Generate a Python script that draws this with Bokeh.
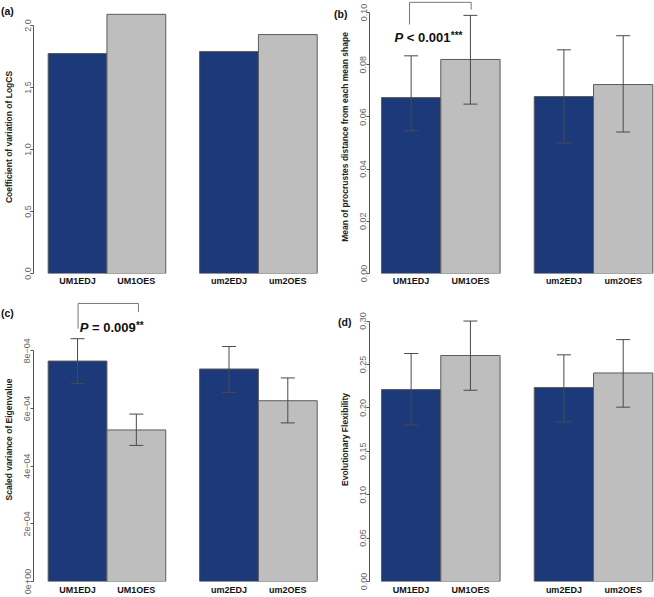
from bokeh.plotting import figure
from bokeh.models import (ColumnDataSource, Whisker, FixedTicker, CustomJSTickFormatter,
                          Label, TeeHead, Range1d, GridBox, Div)
from bokeh.embed import file_html
from bokeh.resources import INLINE

# ---------------- data ----------------
groups = ["UM1EDJ", "UM1OES", "um2EDJ", "um2OES"]
bar_pos = [0.5, 1.5, 3.076, 4.076]
bar_colors = ["#1c3a7a", "#bebebe", "#1c3a7a", "#bebebe"]
panel_tags = ["(a)", "(b)", "(c)", "(d)"]

cv_logcs = [1.774, 2.09, 1.79, 1.927]

procrustes_mean = [0.0674, 0.0820, 0.0678, 0.0724]
procrustes_upper = [0.0834, 0.0989, 0.0857, 0.0911]
procrustes_lower = [0.0547, 0.0649, 0.0500, 0.0542]

eigen_var = [7.645e-4, 5.255e-4, 7.37e-4, 6.27e-4]
eigen_upper = [8.42e-4, 5.806e-4, 8.15e-4, 7.06e-4]
eigen_lower = [6.87e-4, 4.72e-4, 6.56e-4, 5.50e-4]

evo_flex = [0.2211, 0.2603, 0.2234, 0.2402]
evo_upper = [0.2626, 0.300, 0.2611, 0.2786]
evo_lower = [0.1803, 0.2203, 0.1837, 0.2008]

a_ticks = [0.0, 0.5, 1.0, 1.5, 2.0]
b_ticks = [0.0, 0.02, 0.04, 0.06, 0.08, 0.10]
c_ticks = [0.0, 2e-4, 4e-4, 6e-4, 8e-4]
d_ticks = [0.0, 0.05, 0.10, 0.15, 0.20, 0.25, 0.30]

# significance brackets: y of left leg end, top, top, right leg end
b_bracket_y = [0.0954, 0.1039, 0.1039, 0.1011]
c_bracket_y = [8.771e-4, 9.643e-4, 9.643e-4, 9.343e-4]
b_pvalue = ["P", "< 0.001", "***"]
c_pvalue = ["P", "= 0.009", "**"]

FONT = "Liberation Sans"
AX = "#555555"


def make_panel(w, h, left, right, bottom, x_start, x_end, y_end, ticks, fmt_code,
               ylabel, heights, upper=None, lower=None, label_std=2):
    p = figure(width=w, height=h, output_backend="svg", toolbar_location=None,
               min_border_left=left, min_border_right=right, min_border_top=0,
               min_border_bottom=bottom,
               x_range=Range1d(x_start, x_end), y_range=Range1d(0, y_end))
    p.outline_line_color = None
    p.xgrid.visible = False
    p.ygrid.visible = False
    src = ColumnDataSource(dict(x=bar_pos, top=heights, color=bar_colors))
    p.vbar(x="x", top="top", bottom=0, width=1.0, fill_color="color",
           line_color="#5c5c5c", line_width=1, source=src)
    if upper is not None:
        esrc = ColumnDataSource(dict(x=bar_pos, upper=upper, lower=lower))
        wk = Whisker(source=esrc, base="x", upper="upper", lower="lower",
                     line_color="#4a4a4a", line_width=1, level="overlay",
                     upper_head=TeeHead(size=14, line_color="#4a4a4a", line_width=1),
                     lower_head=TeeHead(size=14, line_color="#4a4a4a", line_width=1))
        p.add_layout(wk)
    # y axis (R style)
    ya = p.yaxis[0]
    ya.ticker = FixedTicker(ticks=ticks)
    ya.formatter = CustomJSTickFormatter(code=fmt_code)
    ya.bounds = (0, ticks[-1])
    ya.major_tick_in = 0
    ya.major_tick_out = 3
    ya.minor_tick_in = 0
    ya.minor_tick_out = 0
    ya.minor_tick_line_color = None
    ya.axis_line_color = AX
    ya.major_tick_line_color = AX
    ya.major_label_text_color = "#666666"
    ya.major_label_text_font = FONT
    ya.major_label_text_font_size = "9px"
    ya.major_label_orientation = "vertical"
    ya.major_label_standoff = 0
    ya.axis_label = ylabel
    ya.axis_label_text_font = FONT
    ya.axis_label_text_font_style = "bold"
    ya.axis_label_text_font_size = "8.5px"
    ya.axis_label_text_color = "#222222"
    ya.axis_label_standoff = 8
    # x axis: category labels only
    xa = p.xaxis[0]
    xa.ticker = FixedTicker(ticks=bar_pos)
    xa.major_label_overrides = {pos: g for pos, g in zip(bar_pos, groups)}
    xa.axis_line_color = None
    xa.major_tick_line_color = None
    xa.minor_tick_line_color = None
    xa.major_tick_in = 0
    xa.major_tick_out = 0
    xa.minor_tick_in = 0
    xa.minor_tick_out = 0
    xa.major_label_text_font = FONT
    xa.major_label_text_font_style = "bold"
    xa.major_label_text_font_size = "9px"
    xa.major_label_text_color = "#111111"
    xa.major_label_standoff = label_std
    return p


def add_pvalue(p, x, y, parts):
    p.add_layout(Label(x=x, y=y, text=parts[0], text_font=FONT,
                       text_font_style="bold italic", text_font_size="13px",
                       text_baseline="alphabetic", text_color="#111111"))
    p.add_layout(Label(x=x, y=y, x_offset=12.3, text=parts[1], text_font=FONT,
                       text_font_style="bold", text_font_size="13px",
                       text_baseline="alphabetic", text_color="#111111"))
    p.add_layout(Label(x=x, y=y, x_offset=56.3, y_offset=2, text=parts[2], text_font=FONT,
                       text_font_style="bold", text_font_size="10px",
                       text_baseline="alphabetic", text_color="#111111"))


def tag_div(txt, top, left):
    return Div(text=txt, width=22, height=14, margin=(top, 0, 0, left),
               styles={"font-family": FONT, "font-weight": "bold", "font-size": "10.5px",
                       "color": "#111111", "line-height": "12px", "z-index": "5"})


fmt1 = "return tick.toFixed(1);"
fmt2 = "return tick.toFixed(2);"
fmt_exp = """
if (tick == 0) { return "0e+00"; }
var e = Math.floor(Math.log10(Math.abs(tick)) + 1e-9);
var m = Math.round(tick / Math.pow(10, e));
var s = String(Math.abs(e)); if (s.length < 2) { s = "0" + s; }
return m + "e" + (e < 0 ? "\\u2212" : "+") + s;
"""

LX0, LX1 = -0.249, 4.700     # left panels x range
RX0, RX1 = -0.202, 4.604     # right panels x range

# (a)
pa = make_panel(327, 297, 32, 3, 24, LX0, LX1, 273 / 124.0, a_ticks, fmt1,
                "Coefficient of variation of LogCS", cv_logcs, label_std=2)

# (b)
pb = make_panel(327, 297, 42, 0, 24, RX0, RX1, 273 / 2610.0, b_ticks, fmt2,
                "Mean of procrustes distance from each mean shape", procrustes_mean,
                procrustes_upper, procrustes_lower, label_std=2)
pb.line(x=[bar_pos[0] - 0.027, bar_pos[0] - 0.027, bar_pos[1] + 0.013, bar_pos[1] + 0.013],
        y=b_bracket_y, line_color="#777777", line_width=1)
add_pvalue(pb, 0.220, 0.0903, b_pvalue)

# (c)
pc = make_panel(327, 300, 32, 3, 14, LX0, LX1, 286 / 290375.0, c_ticks, fmt_exp,
                "Scaled variance of Eigenvalue", eigen_var, eigen_upper, eigen_lower,
                label_std=3)
pc.line(x=[bar_pos[0] + 0.009, bar_pos[0] + 0.009, bar_pos[1] + 0.036, bar_pos[1] + 0.036],
        y=c_bracket_y, line_color="#777777", line_width=1)
add_pvalue(pc, 0.536, 8.806e-4, c_pvalue)

# (d)
pd_ = make_panel(327, 300, 42, 0, 14, RX0, RX1, 286 / 874.3, d_ticks, fmt2,
                 "Evolutionary Flexibility", evo_flex, evo_upper, evo_lower, label_std=3)

grid = GridBox(children=[
    (pa, 0, 0), (pb, 0, 1), (pc, 1, 0), (pd_, 1, 1),
    (tag_div(panel_tags[0], 5, 1), 0, 0),
    (tag_div(panel_tags[1], 8, 7), 0, 1),
    (tag_div(panel_tags[2], 10, 1), 1, 0),
    (tag_div(panel_tags[3], 19, 11), 1, 1),
])

open("out.html", "w").write(file_html(grid, INLINE))
